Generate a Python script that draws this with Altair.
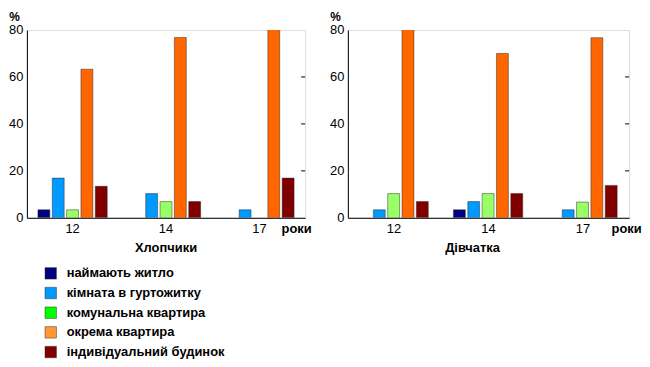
import altair as alt
import pandas as pd

categories = ["наймають житло", "кімната в гуртожитку", "комунальна квартира",
              "окрема квартира", "індивідуальний будинок"]
ages = ["12", "14", "17"]

boys_12 = [3.4, 16.9, 3.4, 63.3, 13.4]
boys_14 = [0.0, 10.3, 6.9, 76.8, 6.9]
boys_17 = [0.0, 3.4, 0.0, 82.8, 16.9]

girls_12 = [0.0, 3.4, 10.3, 82.8, 6.9]
girls_14 = [3.4, 6.9, 10.3, 70.0, 10.3]
girls_17 = [0.0, 3.4, 6.7, 76.7, 13.8]

y_ticks = [0, 20, 40, 60, 80]
bar_colors = ["#000080", "#0099ff", "#99ff66", "#ff6600", "#800000"]
legend_colors = ["#000080", "#0099ff", "#00ff00", "#ff9933", "#800000"]

FONT = "Liberation Sans"


def frame(series):
    rows = []
    for age, vals in zip(ages, series):
        for c, v in zip(categories, vals):
            rows.append({"age": age, "cat": c, "value": v})
    return pd.DataFrame(rows)


def panel(df, name, W, H, xt, tdx):
    bars = alt.Chart(df).transform_filter("datum.value > 0").mark_bar(
        clip=True, stroke="#202020", strokeOpacity=0.45, strokeWidth=1
    ).encode(
        x=alt.X("age:N", sort=ages,
                scale=alt.Scale(domain=ages, paddingInner=0.234, paddingOuter=0.106),
                axis=alt.Axis(title="роки", labelAngle=0, ticks=False,
                              labelPadding=5, labelFontSize=13, labelColor="#000",
                              labelFont=FONT, titleFont=FONT,
                              titleFontSize=13, titleFontWeight="bold",
                              titleColor="#000", titleX=xt, titleY=5,
                              titleAlign="center", titleBaseline="top",
                              domainColor="#000")),
        xOffset=alt.XOffset("cat:N", sort=categories,
                            scale=alt.Scale(domain=categories,
                                            paddingInner=0.17, paddingOuter=0.08)),
        y=alt.Y("value:Q", scale=alt.Scale(domain=[0, 80], nice=False),
                axis=alt.Axis(values=y_ticks, title="%", titleAngle=0,
                              titleX=-13, titleY=-19, titleAlign="center",
                              titleBaseline="top", titleFontSize=12,
                              titleFontWeight="bold", titleColor="#000",
                              titleFont=FONT, labelFont=FONT,
                              labelFontSize=13, labelColor="#000",
                              labelPadding=4, ticks=False, grid=False,
                              domainColor="#000")),
        color=alt.Color("cat:N", scale=alt.Scale(domain=categories, range=bar_colors),
                        legend=None),
    )
    rticks = alt.Chart(pd.DataFrame({"value": y_ticks[1:-1]})).mark_rule(
        color="#000", strokeWidth=1
    ).encode(y=alt.Y("value:Q"), x=alt.value(W - 4), x2=alt.value(W))
    return alt.layer(bars, rticks).properties(
        width=W, height=H,
        title=alt.TitleParams(name, orient="bottom", fontSize=13, fontWeight="bold",
                              font=FONT, color="#000", offset=6, dx=tdx),
    )


left = panel(frame([boys_12, boys_14, boys_17]), "Хлопчики", 280, 189, 271, 0)
right = panel(frame([girls_12, girls_14, girls_17]), "Дівчатка", 283, 189, 280, -16)

top = alt.hconcat(left, right, spacing=43, bounds="flush")

leg_df = pd.DataFrame({"cat": categories})
ly = alt.Y("cat:N", sort=categories, axis=None, scale=alt.Scale(padding=0.5))
sq = alt.Chart(leg_df).mark_square(size=132, opacity=1, stroke="#333",
                                   strokeWidth=0.5).encode(
    y=ly, x=alt.value(24),
    fill=alt.Fill("cat:N", scale=alt.Scale(domain=categories, range=legend_colors),
                  legend=None),
)
txt = alt.Chart(leg_df).mark_text(align="left", baseline="middle", fontSize=13,
                                  fontWeight="bold", font=FONT, color="#000").encode(
    y=ly, x=alt.value(40), text="cat:N"
)
legend = alt.layer(sq, txt).properties(
    width=260, height=99, view=alt.ViewBackground(stroke="transparent")
)

chart = alt.vconcat(top, legend, spacing=7).configure_view(
    stroke="#000", strokeWidth=1
).configure(font=FONT, padding=0, background="white")

chart.save("out.html", embed_options={"renderer": "svg", "actions": False})
